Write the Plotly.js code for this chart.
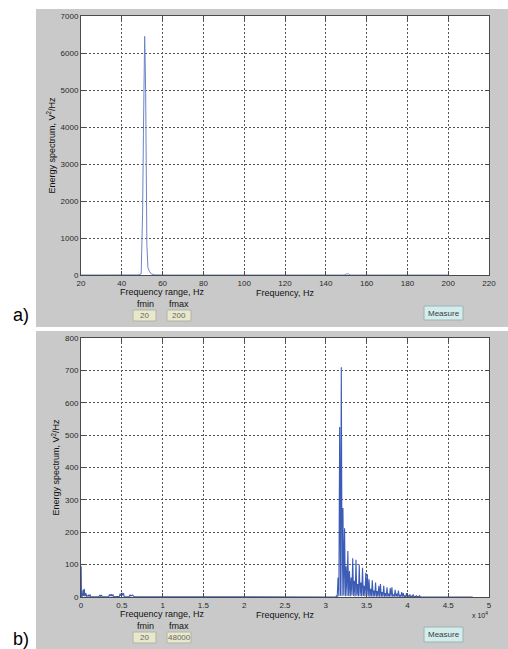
<!DOCTYPE html>
<html><head><meta charset="utf-8">
<script src="https://cdn.plot.ly/plotly-3.0.1.min.js"></script>
<style>html,body{margin:0;padding:0;background:#fff}#chart{width:508px;height:649px}</style>
</head><body><div id="chart"></div>
<script>
// ---------- data ----------
// Panel a: 20 - 200 Hz
const freqA   = [20, 48, 49.5, 50.2, 50.6, 50.9, 51.2, 51.4, 51.7, 51.9, 52.3, 52.8, 53.5, 54.5, 56, 60, 149, 150, 151, 152, 200];
const energyA = [0, 2, 30, 1700, 3800, 4850, 6450, 6000, 4900, 2800, 800, 200, 100, 30, 5, 0, 0, 25, 30, 0, 0];

// Panel b: 20 - 48000 Hz
const freqB = [
  20, 60, 120, 180, 250, 320, 400, 480, 600, 700, 900, 1000, 1100, 1200, 2200, 2300, 2400, 2500, 2600,
  3400, 3500, 3600, 3700, 3800, 3900, 4000, 4700, 4800, 4900, 5000, 5100, 5200, 5300, 5900, 6000, 6100, 6300, 6500,
  31200, 31300, 31400, 31500, 31600, 31700, 31800, 31900, 32000, 32100, 32200, 32300, 32400, 32500, 32600, 32700,
  32800, 32900, 33000, 33100, 33200, 33300, 33400, 33500, 33600, 33700, 33800, 33900, 34000, 34100, 34200, 34300,
  34400, 34500, 34600, 34700, 34800, 34900, 35000, 35100, 35200, 35300, 35400, 35500, 35600, 35700, 35800, 35900,
  36000, 36100, 36200, 36300, 36400, 36500, 36600, 36700, 36800, 36900, 37000, 37100, 37200, 37300, 37400, 37500,
  37600, 37700, 37800, 37900, 38000, 38100, 38200, 38300, 38400, 38500, 38600, 38700, 38800, 38900, 39000, 39100,
  39200, 39300, 39400, 39500, 39600, 39700, 39800, 39900, 40000, 40100, 40200, 40300, 40400, 40500, 40600, 40700,
  40800, 40900, 41000, 41100, 41200, 41300, 41400, 41500, 41600, 48000];
const energyB = [
  95, 0, 12, 2, 22, 3, 25, 2, 12, 1, 6, 1, 8, 1, 1, 6, 2, 6, 1,
  1, 8, 3, 9, 2, 8, 1, 2, 10, 4, 13, 5, 12, 1, 1, 7, 3, 6, 1,
  0, 3, 1, 60, 2, 525, 4, 710, 3, 275, 5, 212, 2, 95, 4, 142,
  3, 80, 2, 60, 5, 120, 3, 50, 2, 115, 4, 40, 2, 100, 3, 45,
  2, 90, 3, 35, 2, 75, 4, 70, 2, 55, 1, 25, 2, 52, 1, 20,
  2, 45, 1, 18, 1, 35, 1, 40, 1, 15, 1, 35, 1, 12, 1, 30,
  1, 10, 1, 28, 1, 30, 1, 8, 1, 22, 1, 10, 1, 20, 1, 6,
  1, 15, 1, 12, 0, 5, 0, 12, 0, 4, 0, 8, 0, 3, 0, 8,
  0, 2, 0, 5, 0, 2, 0, 4, 0, 0];

const tickValsB = [0, 5000, 10000, 15000, 20000, 25000, 30000, 35000, 40000, 45000, 50000];
const tickTextB = ['0', '0.5', '1', '1.5', '2', '2.5', '3', '3.5', '4', '4.5', '5'];
const fminValues = ['20', '20'];
const fmaxValues = ['200', '48000'];

// ---------- layout helpers ----------
const W = 508, H = 649;
const px = x => x / W;
const py = y => 1 - y / H;
const FONT = 'Liberation Sans, Arial, Helvetica, sans-serif';

function axisBase() {
  return {
    showline: true, linecolor: '#4a4a4a', linewidth: 1, mirror: 'ticks',
    ticks: 'inside', ticklen: 4, tickcolor: '#4a4a4a', tickwidth: 1,
    showgrid: true, gridcolor: '#555555', gridwidth: 1, griddash: '2px,2px',
    zeroline: false, fixedrange: true,
    tickfont: {family: FONT, size: 8, color: '#2a2a2a'}
  };
}

const xDom = [px(81), px(489)];
const yDomA = [py(275), py(16)];
const yDomB = [py(597), py(338)];

const layout = {
  width: W, height: H,
  margin: {l: 0, r: 0, t: 0, b: 0, pad: 0},
  paper_bgcolor: '#ffffff', plot_bgcolor: 'rgba(0,0,0,0)',
  showlegend: false,
  xaxis: Object.assign(axisBase(), {
    domain: xDom, anchor: 'y', range: [20, 220], tick0: 20, dtick: 20,
    title: {text: 'Frequency, Hz', font: {family: FONT, size: 9, color: '#111'}, standoff: 1}
  }),
  yaxis: Object.assign(axisBase(), {
    domain: yDomA, anchor: 'x', range: [0, 7000], dtick: 1000,
    title: {text: 'Energy spectrum, V<sup>2</sup>/Hz', font: {family: FONT, size: 9, color: '#111'}, standoff: 3}
  }),
  xaxis2: Object.assign(axisBase(), {
    domain: xDom, anchor: 'y2', range: [0, 50000], tickmode: 'array', tickvals: tickValsB, ticktext: tickTextB,
    title: {text: 'Frequency, Hz', font: {family: FONT, size: 9, color: '#111'}, standoff: 1}
  }),
  yaxis2: Object.assign(axisBase(), {
    domain: yDomB, anchor: 'x2', range: [0, 800], dtick: 100,
    title: {text: 'Energy spectrum, V<sup>2</sup>/Hz', font: {family: FONT, size: 9, color: '#111'}, standoff: 3}
  }),
  shapes: [], annotations: []
};

function rect(x0, y0, x1, y1, fill, line, layer) {
  layout.shapes.push({type: 'rect', xref: 'paper', yref: 'paper', x0: px(x0), x1: px(x1), y0: py(y1), y1: py(y0),
    fillcolor: fill, line: {color: line || fill, width: line ? 1 : 0}, layer: layer || 'below'});
}
function text(t, x, y, size, color, opts) {
  layout.annotations.push(Object.assign({text: t, xref: 'paper', yref: 'paper', x: px(x), y: py(y),
    xanchor: 'center', yanchor: 'middle', showarrow: false,
    font: {family: FONT, size: size, color: color}}, opts || {}));
}

// grey figure panels
rect(36, 9, 508, 327, '#c9c9c9');
rect(36, 331, 508, 649, '#c9c9c9');
// white plot areas
rect(81, 16, 489, 275, '#ffffff');
rect(81, 338, 489, 597, '#ffffff');

// panel controls
const panelOffsets = [
  {rangeY: 292, labY: 304, boxY0: 310, boxY1: 321, btnY0: 306, btnY1: 320, tag: 'a)', tagY: 315},
  {rangeY: 614, labY: 626, boxY0: 632, boxY1: 643, btnY0: 627, btnY1: 642, tag: 'b)', tagY: 639}
];
panelOffsets.forEach((p, i) => {
  text('Frequency range, Hz', 162, p.rangeY, 9, '#111');
  text('fmin', 145, p.labY, 9, '#111');
  text('fmax', 179, p.labY, 9, '#111');
  rect(133, p.boxY0, 156, p.boxY1, '#e8e8cc', '#b4b4a4', 'above');
  rect(167, p.boxY0, 191, p.boxY1, '#e8e8cc', '#b4b4a4', 'above');
  text(fminValues[i], 144.5, (p.boxY0 + p.boxY1) / 2, 8, '#666');
  text(fmaxValues[i], 179, (p.boxY0 + p.boxY1) / 2, 8, '#666');
  rect(424, p.btnY0, 463, p.btnY1, '#d3eded', '#9fb2b2', 'above');
  text('Measure', 443.5, (p.btnY0 + p.btnY1) / 2, 8, '#3a3a3a');
  text(p.tag, 21, p.tagY, 18, '#000');
});
text('x 10<sup>4</sup>', 480, 615, 7, '#222');

const traces = [
  {x: freqA, y: energyA, type: 'scatter', mode: 'lines', xaxis: 'x', yaxis: 'y',
   line: {color: '#6a84c8', width: 1}, hoverinfo: 'skip'},
  {x: freqB, y: energyB, type: 'scatter', mode: 'lines', xaxis: 'x2', yaxis: 'y2',
   line: {color: '#3d5cb6', width: 1.1}, hoverinfo: 'skip'}
];

Plotly.newPlot('chart', traces, layout, {staticPlot: true, displayModeBar: false});
</script></body></html>
